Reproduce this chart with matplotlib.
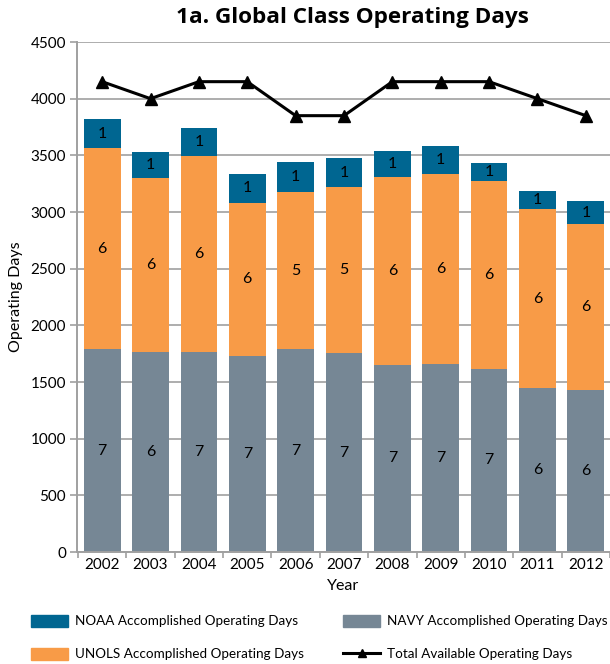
import numpy as np
import matplotlib
matplotlib.use('Agg')
import matplotlib.pyplot as plt
from matplotlib.patches import Patch
from matplotlib.lines import Line2D

years = ['2002', '2003', '2004', '2005', '2006', '2007', '2008', '2009', '2010', '2011', '2012']
navy_days = [1790, 1765, 1765, 1730, 1790, 1755, 1650, 1660, 1615, 1445, 1430]
unols_days = [1775, 1535, 1730, 1350, 1385, 1465, 1660, 1675, 1660, 1580, 1465]
noaa_days = [255, 230, 245, 255, 265, 255, 230, 245, 155, 160, 200]
total_days = [4150, 4000, 4150, 4150, 3850, 3850, 4150, 4150, 4150, 4000, 3850]

# ship counts written inside the bars
navy_ships = [7, 6, 7, 7, 7, 7, 7, 7, 7, 6, 6]
unols_ships = [6, 6, 6, 6, 5, 5, 6, 6, 6, 6, 6]
noaa_ships = [1, 1, 1, 1, 1, 1, 1, 1, 1, 1, 1]

c_noaa = '#006691'
c_unols = '#f89b47'
c_navy = '#768795'
grey = '#a0a0a0'

plt.rcParams['font.family'] = ['Lato', 'DejaVu Sans']

fig = plt.figure(figsize=(6.10, 6.64), dpi=100)
ax = fig.add_axes([77 / 610, 1 - 552 / 664, 533 / 610, 510 / 664])

x = np.arange(len(years))
w = 0.76
navy = np.array(navy_days)
unols = np.array(unols_days)
noaa = np.array(noaa_days)

ax.bar(x, navy, w, color=c_navy, zorder=2)
ax.bar(x, unols, w, bottom=navy, color=c_unols, zorder=2)
ax.bar(x, noaa, w, bottom=navy + unols, color=c_noaa, zorder=2)
ax.plot(x, total_days, '-^', color='black', lw=2.2, ms=8, zorder=3)

for i in range(len(years)):
    ax.text(x[i], navy[i] / 2, str(navy_ships[i]), ha='center', va='center', fontsize=11.5, zorder=4)
    ax.text(x[i], navy[i] + unols[i] / 2, str(unols_ships[i]), ha='center', va='center', fontsize=11.5, zorder=4)
    ax.text(x[i], navy[i] + unols[i] + noaa[i] / 2, str(noaa_ships[i]), ha='center', va='center',
            fontsize=11.5, zorder=4)

ax.set_xlim(-0.52, 10.5)
ax.set_ylim(0, 4500)
ax.set_yticks(np.arange(0, 4501, 500))
ax.set_xticks(x)
ax.set_xticklabels(years)
ax.set_xticks(np.arange(-0.5, 10.6, 1), minor=True)
ax.tick_params(axis='x', which='major', length=0, labelsize=11, pad=4)
ax.tick_params(axis='x', which='minor', length=4, color=grey, width=1.2)
ax.tick_params(axis='y', length=5, color=grey, width=1.2, labelsize=11, pad=3)
ax.yaxis.grid(True, color=grey, lw=1.2, zorder=0)
ax.set_axisbelow(True)
for s in ['top', 'right']:
    ax.spines[s].set_visible(False)
for s in ['left', 'bottom']:
    ax.spines[s].set_color(grey)
    ax.spines[s].set_linewidth(1.4)

ax.set_xlabel('Year', fontsize=11.5, labelpad=5)
ax.set_ylabel('Operating Days', fontsize=11.5, labelpad=5)

fig.text(352 / 610, 1 - 17 / 664, '1a. Global Class Operating Days', ha='center', va='center',
         fontsize=16.2, fontweight='bold', family=['Open Sans', 'DejaVu Sans'])

handles = [Patch(color=c_noaa), Patch(color=c_unols), Patch(color=c_navy),
           Line2D([], [], color='black', lw=2.2, marker='^', ms=6)]
labels = ['NOAA Accomplished Operating Days', 'UNOLS Accomplished Operating Days',
          'NAVY Accomplished Operating Days', 'Total Available Operating Days']
fig.legend(handles, labels, ncol=2, loc='upper left', bbox_to_anchor=(31 / 610, 1 - 615 / 664),
           frameon=False, fontsize=9.7, handlelength=2.75, handleheight=0.95, handletextpad=0.52,
           columnspacing=2.9, labelspacing=1.52, borderpad=0, borderaxespad=0)

fig.savefig('out.png', dpi=100)
